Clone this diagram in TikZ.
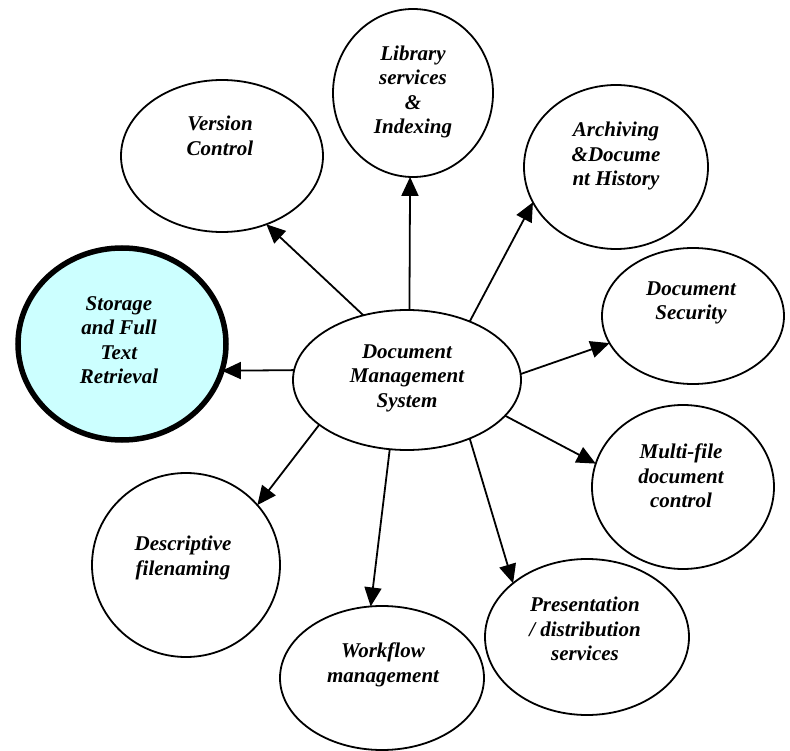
\documentclass[tikz,border=0pt]{standalone}
\usepackage{fontspec}
\setmainfont{Liberation Serif}
\usetikzlibrary{shapes.geometric,arrows.meta}
\definecolor{paleCyan}{HTML}{CCFFFF}
\begin{document}
\begin{tikzpicture}[x=1pt,y=-1pt,
  bubble/.style={ellipse,draw,line width=1.8pt,inner sep=0pt,outer sep=0pt},
  hub/.style={bubble,fill=paleCyan,line width=5.5pt},
  caption/.style={align=center,inner sep=0pt,font=\fontsize{21}{24.5}\selectfont\bfseries\itshape},
  link/.style={line width=1.8pt,-{Triangle[length=19pt,width=17pt]}}
]
\useasboundingbox (0,0) rectangle (790,751);

% ellipses
\node[bubble,minimum width=160pt,minimum height=168pt] (lib) at (413,93) {};
\node[bubble,minimum width=202pt,minimum height=152pt] (ver) at (222,156) {};
\node[bubble,minimum width=184pt,minimum height=164pt] (arc) at (616,167) {};
\node[hub,minimum width=208pt,minimum height=192pt] (sto) at (122,344) {};
\node[bubble,minimum width=228pt,minimum height=140pt] (dms) at (407,380) {};
\node[bubble,minimum width=182pt,minimum height=136pt] (sec) at (693,316) {};
\node[bubble,minimum width=182pt,minimum height=164pt] (mul) at (683,487) {};
\node[bubble,minimum width=188pt,minimum height=184pt] (des) at (186,565) {};
\node[bubble,minimum width=204pt,minimum height=144pt] (wor) at (382,678) {};
\node[bubble,minimum width=204pt,minimum height=156pt] (pre) at (587,637) {};

% labels
\node[caption] (t-lib) at (413,92) {Library\\services\\\&\\Indexing};
\node[caption] (t-ver) at (220,136) {Version\\Control};
\node[caption] (t-arc) at (616,156) {Archiving\\\&Docume\\nt History};
\node[caption] (t-sto) at (119,340) {Storage\\and Full\\Text\\Retrieval};
\node[caption] (t-dms) at (407,378) {Document\\Management\\System};
\node[caption] (t-sec) at (691,303) {Document\\Security};
\node[caption] (t-mul) at (681,476) {Multi-file\\document\\control};
\node[caption] (t-des) at (183,558) {Descriptive\\filenaming};
\node[caption] (t-wor) at (383,665) {Workflow\\management};
\node[caption] (t-pre) at (585,629) {Presentation\\/ distribution\\services};

% connectors from the hub
\draw[link] (dms.124) -- (ver.-57);
\draw[link] (dms.88) -- (lib.-92);
\draw[link] (dms.43) -- (arc.203);
\draw[link] (dms.3) -- (sec.198);
\draw[link] (dms.-20) -- (mul.165);
\draw[link] (dms.-43) -- (pre.144);
\draw[link] (dms.-104) -- (wor.99);
\draw[link] (dms.207) -- (des.40);
\draw[link] (dms.175) -- (sto.-15);
\end{tikzpicture}
\end{document}
